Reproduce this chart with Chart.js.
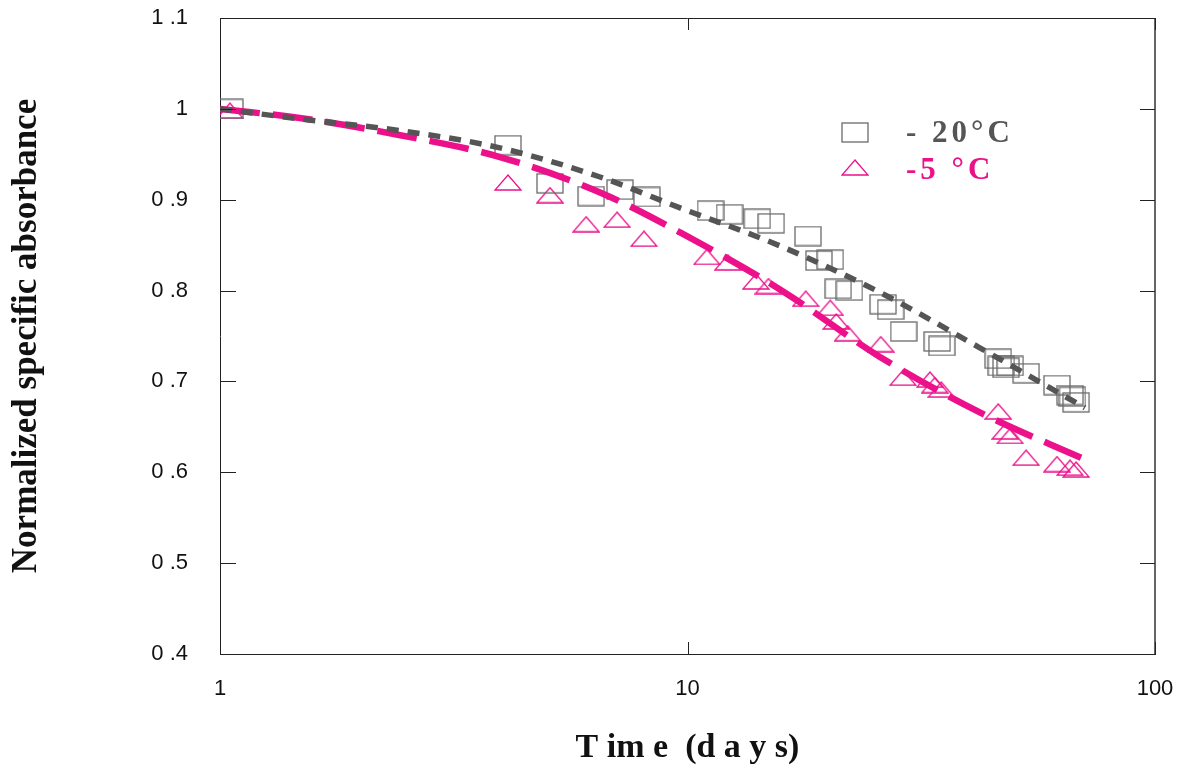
<!DOCTYPE html>
<html>
<head>
<meta charset="utf-8">
<script src="https://cdn.jsdelivr.net/npm/chart.js@4"></script>
<style>
  html, body { margin: 0; padding: 0; background: #fff; }
  #wrap { width: 1184px; height: 769px; }
</style>
</head>
<body>
<div id="wrap"><canvas id="chart" width="1184" height="769"></canvas></div>
<script>
// -20 C measurements (squares)
var coldX = [1.05, 4.13, 5.08, 6.22, 7.17, 8.19, 11.2, 12.3, 14.1, 15.1, 18.1, 19.1, 20.2, 21.0, 22.2,
             26.2, 27.2, 29.0, 34.2, 35.0, 46.2, 46.9, 48.0, 49.0, 53.0, 61.7, 65.8, 66.6, 67.8];
var coldY = [1.0, 0.960, 0.918, 0.904, 0.911, 0.903, 0.888, 0.884, 0.879, 0.874, 0.860, 0.833, 0.834, 0.802, 0.800,
             0.785, 0.779, 0.755, 0.744, 0.739, 0.725, 0.717, 0.715, 0.717, 0.709, 0.696, 0.685, 0.683, 0.677];

// -5 C measurements (triangles)
var warmX = [1.05, 4.13, 5.08, 6.07, 7.07, 8.07, 11.0, 12.2, 14.0, 14.9, 17.9, 20.2, 20.8, 22.0,
             25.9, 28.9, 33.0, 33.8, 34.9, 46.2, 47.8, 49.0, 53.0, 61.7, 65.8, 67.8];
var warmY = [0.998, 0.919, 0.905, 0.873, 0.878, 0.857, 0.837, 0.831, 0.810, 0.805, 0.791, 0.781, 0.766, 0.753,
             0.741, 0.704, 0.702, 0.696, 0.691, 0.667, 0.645, 0.640, 0.616, 0.609, 0.605, 0.603];

// fitted curves
var fitX = [1, 1.48, 2.43, 3.97, 6.5, 9.64, 15.8, 25.8, 42.2, 70.8];
var coldFit = [1.0, 0.989, 0.976, 0.957, 0.925, 0.891, 0.849, 0.798, 0.737, 0.671];
var warmFit = [1.0, 0.990, 0.971, 0.947, 0.908, 0.864, 0.801, 0.727, 0.666, 0.614];

var xTicks = [1, 10, 100];
var seriesLabels = ["- 20°C", "-5 °C"];

var GRAY = "#555555";
var BOX = "#6a6a6a";
var PINK = "#ec118b";

function pts(xs, ys) {
  return xs.map(function (x, i) { return {x: x, y: ys[i]}; });
}

// marker images
function boxMarker() {
  var c = document.createElement("canvas");
  c.width = 28; c.height = 21;
  var g = c.getContext("2d");
  g.strokeStyle = BOX; g.lineWidth = 1.3;
  g.strokeRect(1, 1, 26, 19);
  return c;
}
function triMarker() {
  var c = document.createElement("canvas");
  c.width = 28; c.height = 17;
  var g = c.getContext("2d");
  g.strokeStyle = PINK; g.lineWidth = 1.3;
  g.beginPath();
  g.moveTo(14, 1); g.lineTo(27, 16); g.lineTo(1, 16); g.closePath();
  g.stroke();
  return c;
}
var boxImg = boxMarker();
var triImg = triMarker();

function noPad(s) {
  s.paddingTop = 0; s.paddingBottom = 0; s.paddingLeft = 0; s.paddingRight = 0;
}

// frame, inward ticks and legend
var framePlugin = {
  id: "frame",
  afterDraw: function (chart) {
    var ctx = chart.ctx, a = chart.chartArea;
    var xs = chart.scales.x, ys = chart.scales.y;
    ctx.save();
    ctx.strokeStyle = "#222"; ctx.lineWidth = 1;
    ctx.beginPath();
    ctx.moveTo(a.left, a.top + 0.5); ctx.lineTo(a.right, a.top + 0.5);
    ctx.stroke();
    ctx.strokeStyle = "#666"; ctx.lineWidth = 2;
    ctx.beginPath();
    ctx.moveTo(a.right, a.top); ctx.lineTo(a.right, a.bottom);
    ctx.stroke();
    ctx.strokeStyle = "#222"; ctx.lineWidth = 1;
    ctx.beginPath();
    ys.ticks.forEach(function (t) {
      var py = Math.round(ys.getPixelForValue(t.value)) + 0.5;
      ctx.moveTo(a.left, py); ctx.lineTo(a.left + 16, py);
      ctx.moveTo(a.right - 15, py); ctx.lineTo(a.right, py);
    });
    xs.ticks.forEach(function (t) {
      var px = Math.round(xs.getPixelForValue(t.value)) + 0.5;
      ctx.moveTo(px, a.bottom); ctx.lineTo(px, a.bottom - 12);
      ctx.moveTo(px, a.top); ctx.lineTo(px, a.top + 12);
    });
    ctx.stroke();

    // legend
    ctx.drawImage(boxImg, 841, 122);
    ctx.drawImage(triImg, 841, 159);
    ctx.font = "bold 31px 'Liberation Serif'";
    ctx.textBaseline = "middle";
    ctx.textAlign = "left";
    ctx.letterSpacing = "4px";
    ctx.fillStyle = GRAY;
    ctx.fillText(seriesLabels[0], 906, 134);
    ctx.fillStyle = PINK;
    ctx.fillText(seriesLabels[1], 906, 171);
    ctx.restore();
  }
};

new Chart(document.getElementById("chart"), {
  type: "scatter",
  data: {
    datasets: [{
      label: seriesLabels[0] + " fit",
      data: pts(fitX, coldFit),
      showLine: true,
      borderColor: GRAY,
      borderWidth: 5.5,
      borderDash: [12, 9],
      cubicInterpolationMode: "monotone",
      pointRadius: 0,
      fill: false
    }, {
      label: seriesLabels[1] + " fit",
      data: pts(fitX, warmFit),
      showLine: true,
      borderColor: PINK,
      borderWidth: 6.5,
      borderDash: [40, 13],
      cubicInterpolationMode: "monotone",
      pointRadius: 0,
      fill: false
    }, {
      label: seriesLabels[0],
      data: pts(coldX, coldY),
      pointStyle: boxImg,
      pointRadius: 10
    }, {
      label: seriesLabels[1],
      data: pts(warmX, warmY),
      pointStyle: triImg,
      pointRadius: 10
    }]
  },
  options: {
    responsive: false,
    animation: false,
    layout: {padding: {top: 18, right: 29, left: 0, bottom: 0}},
    plugins: {
      legend: {display: false},
      tooltip: {enabled: false}
    },
    scales: {
      x: {
        type: "logarithmic",
        min: 1,
        max: 100,
        afterBuildTicks: function (s) {
          s.ticks = xTicks.map(function (v) { return {value: v}; });
        },
        afterFit: function (s) { s.height = 115; noPad(s); },
        grid: {display: false},
        border: {display: true, color: "#222", width: 1},
        ticks: {
          autoSkip: false,
          maxRotation: 0,
          padding: 14,
          color: "#111",
          font: {family: "'Liberation Sans'", size: 22},
          callback: function (v) { return String(v); }
        },
        title: {
          display: true,
          text: "T im e  (d a y s)",
          color: "#111",
          font: {family: "'Liberation Serif'", size: 34, weight: "bold"},
          padding: {top: 0, bottom: 0}
        }
      },
      y: {
        min: 0.4,
        max: 1.1,
        afterFit: function (s) { s.width = 220; noPad(s); },
        grid: {display: false},
        border: {display: true, color: "#222", width: 1},
        ticks: {
          stepSize: 0.1,
          padding: 24,
          color: "#111",
          font: {family: "'Liberation Sans'", size: 22},
          callback: function (v) {
            var r = Math.round(v * 10) / 10;
            if (r === 1) return "1";
            return r.toFixed(1).replace(".", " .");
          }
        },
        title: {
          display: true,
          text: "Normalized specific absorbance",
          color: "#111",
          font: {family: "'Liberation Serif'", size: 35, weight: "bold"},
          padding: {top: 6, bottom: 0}
        }
      }
    }
  },
  plugins: [framePlugin]
});
</script>
</body>
</html>
